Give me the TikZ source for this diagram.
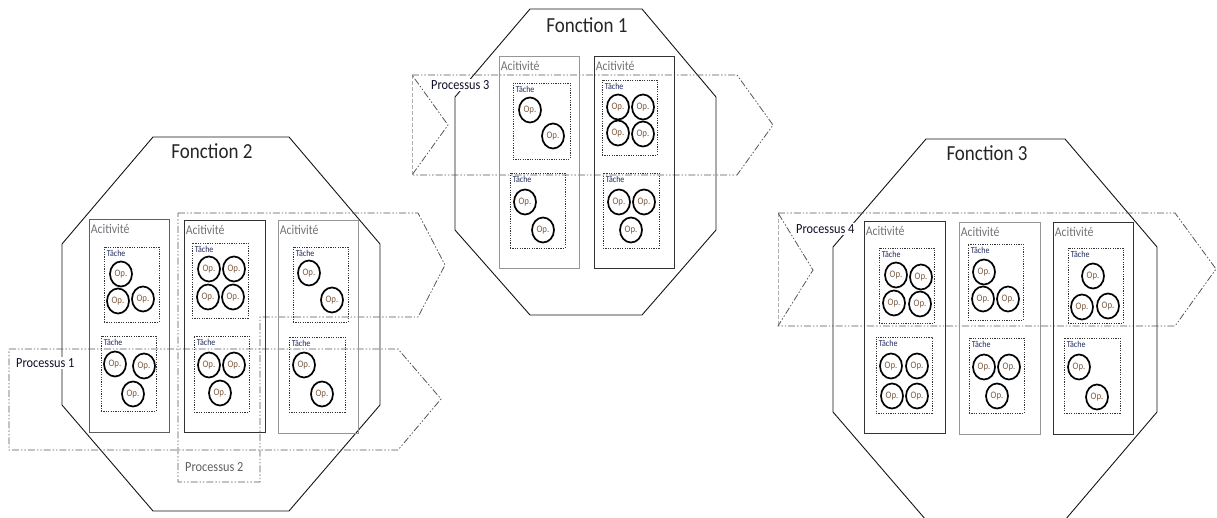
\documentclass[tikz,border=0pt]{standalone}
\usepackage{fontspec}
\setmainfont{Carlito}
\usetikzlibrary{fit,shapes.geometric}

\definecolor{octline}{RGB}{20,20,20}
\definecolor{actdark}{RGB}{50,50,50}
\definecolor{actlight}{RGB}{150,150,150}
\definecolor{actmid}{RGB}{95,95,95}
\definecolor{procline}{RGB}{85,85,85}
\definecolor{procfaint}{RGB}{175,175,175}
\definecolor{acttext}{RGB}{115,115,120}
\definecolor{tachetext}{RGB}{30,40,90}
\definecolor{optext}{RGB}{120,88,62}
\definecolor{proctext}{RGB}{15,15,40}
\definecolor{proctextgray}{RGB}{95,95,100}

% lettering is set slightly taller than wide
\newcommand\tall[1]{\scalebox{1}[1.13]{#1}}
% one operation bubble
\newcommand\opat[3]{\node[opnode] (#1) at (#2,#3) {\tall{Op.}};}
% an activity column with its caption
\newcommand\activitybox[6]{%
  \node[actbox, draw=#2, fit={(#3,#4) (#5,#6)}] (#1) {};
  \node[actlabel] (#1-lbl) at ([shift={(2,10)}]#1.north west) {\tall{Acitivité}};}
% a task frame with its caption
\newcommand\taskbox[5]{%
  \node[taskframe, fit={(#2,#3) (#4,#5)}] (#1) {};
  \node[tasklabel] (#1-lbl) at ([shift={(3,7)}]#1.north west) {\tall{Tâche}};}

\begin{document}
\begin{tikzpicture}[x=1pt,y=-1pt,
  octo/.style={draw=octline, line width=0.9pt, line join=miter},
  fonctionlabel/.style={font=\fontsize{19}{22}\selectfont, text=black!85, inner sep=0pt},
  actbox/.style={rectangle, line width=0.9pt, inner sep=0pt},
  actlabel/.style={anchor=west, inner sep=0pt, text=acttext, font=\fontsize{11.8}{13}\selectfont},
  taskframe/.style={rectangle, draw=black!80, line width=0.8pt, dash pattern=on 1.2pt off 1.2pt, inner sep=0pt},
  tasklabel/.style={anchor=west, inner sep=0pt, text=tachetext, font=\fontsize{8}{9}\selectfont},
  opnode/.style={ellipse, draw=black, line width=1.7pt, minimum width=22pt, minimum height=25pt,
                 inner sep=0pt, text=optext, font=\fontsize{8.8}{9}\selectfont},
  procpath/.style={draw=procline, line width=0.8pt,
                   dash pattern=on 7pt off 2pt on 1.4pt off 2pt on 1.4pt off 2pt},
  procfaintline/.style={draw=procfaint, line width=0.8pt, dash pattern=on 4pt off 2pt},
  proclabel/.style={anchor=west, fill=white, inner sep=1pt, text=proctext, font=\fontsize{12.3}{13}\selectfont},
  proclabelgray/.style={anchor=west, inner sep=1pt, text=proctextgray, font=\fontsize{12.3}{13}\selectfont}
]
\useasboundingbox (0,0) rectangle (1217,518);

% ---------- the three functions ----------
\draw[octo] (530,9) -- (642,9) -- (716,97) -- (716,230) -- (642,315) -- (530,315) -- (455,230) -- (455,97) -- cycle;
\draw[octo] (153,137) -- (289,137) -- (380,244) -- (380,405) -- (289,511) -- (153,511) -- (62,405) -- (62,244) -- cycle;
\draw[octo] (926,139) -- (1065,139) -- (1157,247) -- (1157,412) -- (1065,520) -- (926,520) -- (833,412) -- (833,247) -- cycle;

\node[fonctionlabel] (fonction1) at (587,25) {\tall{Fonction 1}};
\node[fonctionlabel] (fonction2) at (212,151) {\tall{Fonction 2}};
\node[fonctionlabel] (fonction3) at (987,153) {\tall{Fonction 3}};

% ---------- processes ----------
\draw[procpath] (9,349) -- (398,349) -- (441,399) -- (398,450) -- (9,450) -- cycle;
\draw[procpath] (178,213) -- (418,213) -- (445,265) -- (418,317) -- (260,317) -- (260,482) -- (178,482) -- cycle;
\draw[procfaintline] (412,75) -- (412,175);
\draw[procpath] (412,75) -- (737,75) -- (773,125) -- (737,175) -- (412,175) -- (448,125) -- cycle;
\draw[procfaintline] (778,213) -- (778,326);
\draw[procpath] (778,213) -- (1175,213) -- (1216,269) -- (1175,326) -- (778,326) -- (813,270) -- cycle;

% ---------- Fonction 1 ----------
\activitybox{f1a1}{actlight}{499}{56}{579}{268}
\activitybox{f1a2}{actdark}{594}{56}{674}{268}
\taskbox{f1a1t1}{513}{83}{570}{159}
\taskbox{f1a1t2}{510}{173}{565}{248}
\taskbox{f1a2t1}{602}{80}{657}{155}
\taskbox{f1a2t2}{603}{173}{659}{248}
\opat{f1o1}{530}{110} \opat{f1o2}{553}{136}
\opat{f1o3}{525}{202} \opat{f1o4}{543}{230}
\opat{f1o5}{618}{107} \opat{f1o6}{643}{107} \opat{f1o7}{618}{133} \opat{f1o8}{643}{134}
\opat{f1o9}{619}{202} \opat{f1o10}{644}{202} \opat{f1o11}{631}{230}

% ---------- Fonction 2 ----------
\activitybox{f2a1}{actmid}{89}{219}{169}{432}
\activitybox{f2a2}{actdark}{184}{220}{265}{432}
\activitybox{f2a3}{actlight}{278}{220}{358}{433}
\taskbox{f2a1t1}{104}{247}{159}{322}
\taskbox{f2a1t2}{101}{336}{156}{411}
\taskbox{f2a2t1}{192}{243}{248}{318}
\taskbox{f2a2t2}{194}{336}{249}{412}
\taskbox{f2a3t1}{293}{247}{348}{322}
\taskbox{f2a3t2}{289}{337}{345}{412}
\opat{f2o1}{121}{274} \opat{f2o2}{118}{301} \opat{f2o3}{143}{299}
\opat{f2o4}{115}{364} \opat{f2o5}{144}{366} \opat{f2o6}{133}{394}
\opat{f2o7}{209}{269} \opat{f2o8}{234}{269} \opat{f2o9}{208}{297} \opat{f2o10}{233}{297}
\opat{f2o11}{209}{365} \opat{f2o12}{234}{365} \opat{f2o13}{220}{393}
\opat{f2o14}{309}{273} \opat{f2o15}{332}{300}
\opat{f2o16}{304}{365} \opat{f2o17}{322}{394}

% ---------- Fonction 3 ----------
\activitybox{f3a1}{actdark}{864}{221}{945}{433}
\activitybox{f3a2}{actlight}{959}{222}{1040}{434}
\activitybox{f3a3}{actdark}{1053}{222}{1133}{434}
\taskbox{f3a1t1}{879}{248}{934}{323}
\taskbox{f3a1t2}{876}{337}{932}{413}
\taskbox{f3a2t1}{968}{244}{1023}{320}
\taskbox{f3a2t2}{969}{338}{1024}{413}
\taskbox{f3a3t1}{1068}{248}{1123}{323}
\taskbox{f3a3t2}{1064}{338}{1120}{413}
\opat{f3o1}{896}{275} \opat{f3o2}{921}{277} \opat{f3o3}{894}{303} \opat{f3o4}{920}{304}
\opat{f3o5}{891}{366} \opat{f3o6}{917}{366} \opat{f3o7}{892}{396} \opat{f3o8}{917}{396}
\opat{f3o9}{984}{272} \opat{f3o10}{983}{299} \opat{f3o11}{1008}{299}
\opat{f3o12}{984}{367} \opat{f3o13}{1009}{367} \opat{f3o14}{997}{396}
\opat{f3o15}{1093}{276} \opat{f3o16}{1082}{307} \opat{f3o17}{1108}{306}
\opat{f3o18}{1079}{367} \opat{f3o19}{1097}{397}

% ---------- process captions ----------
\node[proclabel] (p1lbl) at (15,363) {\tall{Processus 1}};
\node[proclabelgray] (p2lbl) at (184,467) {\tall{Processus 2}};
\node[proclabel] (p3lbl) at (430,85) {\tall{Processus 3}};
\node[proclabel] (p4lbl) at (795,229) {\tall{Processus 4}};
\end{tikzpicture}
\end{document}
